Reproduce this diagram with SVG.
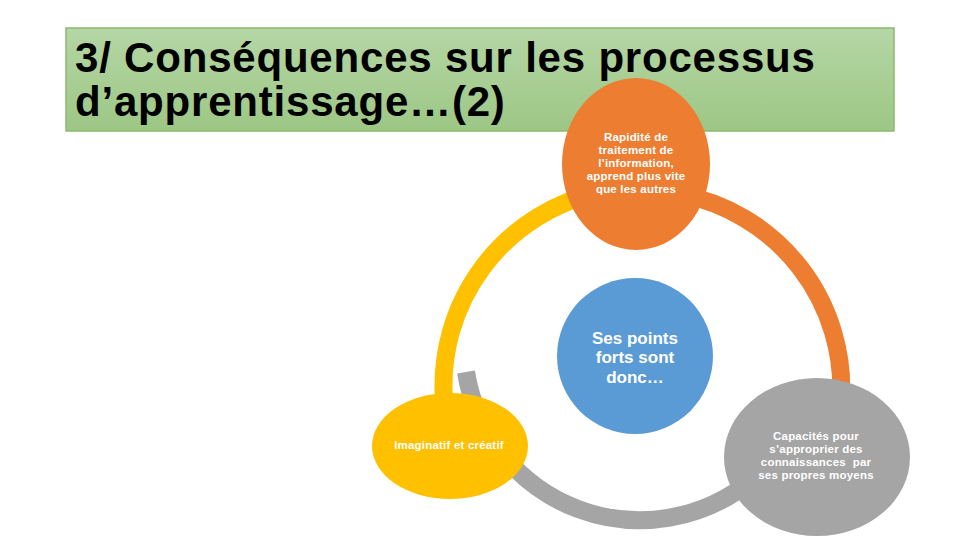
<svg xmlns="http://www.w3.org/2000/svg" width="960" height="540" viewBox="0 0 960 540">
  <defs>
    <linearGradient id="titleGrad" x1="0" y1="0" x2="0" y2="1">
      <stop offset="0" stop-color="#b5d6a5"/>
      <stop offset="1" stop-color="#9dc785"/>
    </linearGradient>
    <style>
      .title { font-family: "Liberation Sans", Arial, sans-serif; font-weight: bold; font-size: 42px; fill: #000; letter-spacing: 0.8px; }
      .small { font-family: "Liberation Sans", Arial, sans-serif; font-weight: bold; font-size: 11.5px; fill: #fff; text-anchor: middle; letter-spacing: 0.2px; white-space: pre; }
      .center { font-family: "Liberation Sans", Arial, sans-serif; font-weight: bold; font-size: 17px; fill: #fff; text-anchor: middle; }
      .arc { fill: none; stroke-width: 18; stroke-linecap: butt; }
    </style>
  </defs>
  <rect width="960" height="540" fill="#ffffff"/>
  <g id="title">
    <rect x="66" y="28" width="828" height="103" fill="url(#titleGrad)" stroke="#8cb96f" stroke-width="1.5"/>
    <text class="title" x="75" y="72">3/ Conséquences sur les processus</text>
    <text class="title" x="75" y="116">d’apprentissage…(2)</text>
  </g>
  <g id="connectors">
    <path class="arc" stroke="#FFC000" d="M 444 400 A 198 198 0 0 1 600 192"/>
    <path class="arc" stroke="#ED7D31" d="M 680 194 A 198 198 0 0 1 841 400"/>
    <path class="arc" stroke="#A5A5A5" d="M 466 372 A 176 176 0 0 0 753 479"/>
  </g>
  <g id="node-center">
    <circle cx="635" cy="356" r="78" fill="#5B9BD5"/>
    <text class="center" x="635" y="344">Ses points</text>
    <text class="center" x="635" y="363">forts sont</text>
    <text class="center" x="635" y="383">donc…</text>
  </g>
  <g id="node-top">
    <ellipse cx="636" cy="164" rx="74" ry="86" fill="#ED7D31"/>
    <text class="small" x="636" y="141">Rapidité de</text>
    <text class="small" x="636" y="154">traitement de</text>
    <text class="small" x="636" y="167">l’information,</text>
    <text class="small" x="636" y="180">apprend plus vite</text>
    <text class="small" x="636" y="193">que les autres</text>
  </g>
  <g id="node-left">
    <ellipse cx="450" cy="446" rx="78" ry="53" fill="#FFC000"/>
    <text class="small" x="449" y="449">Imaginatif et créatif</text>
  </g>
  <g id="node-right">
    <ellipse cx="817" cy="457" rx="93" ry="79" fill="#A5A5A5"/>
    <text class="small" x="816" y="440">Capacités pour</text>
    <text class="small" x="816" y="453">s’approprier des</text>
    <text class="small" x="816" y="466">connaissances  par</text>
    <text class="small" x="816" y="479">ses propres moyens</text>
  </g>
</svg>
